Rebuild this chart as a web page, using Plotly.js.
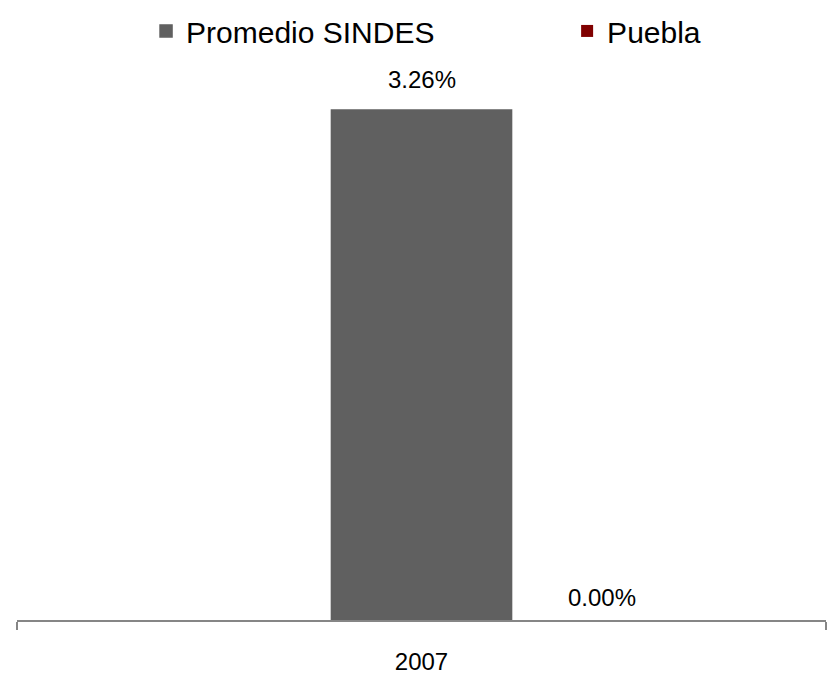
<!DOCTYPE html>
<html>
<head>
<meta charset="utf-8">
<script src="https://cdn.plot.ly/plotly-3.0.1.min.js"></script>
<style>html,body{margin:0;padding:0;background:#fff;}#chart{width:827px;height:684px;}</style>
</head>
<body>
<div id="chart"></div>
<script>
var categories = ['2007'];
var seriesNames = ['', 'Promedio SINDES', 'Puebla'];
var blankValues = [null];
var promedioValues = [3.26];
var pueblaValues = [0.00];
var yMax = 3.4518;

var FONT = 'Liberation Sans, Arial, sans-serif';

var traces = [
  {type: 'bar', name: seriesNames[0], x: categories, y: blankValues, showlegend: false,
   marker: {color: 'rgba(0,0,0,0)'}, hoverinfo: 'skip'},
  {type: 'bar', name: seriesNames[1], x: categories, y: promedioValues, legend: 'legend',
   marker: {color: '#606060', line: {color: '#606060', width: 1.5}}},
  {type: 'bar', name: seriesNames[2], x: categories, y: pueblaValues, legend: 'legend2',
   marker: {color: '#800000', line: {color: '#800000', width: 0}}}
];

var valueSets = [promedioValues, pueblaValues];
var shifts = [[0, 15], [180, 7]];
var annotations = [];
valueSets.forEach(function (vals, s) {
  vals.forEach(function (v, i) {
    annotations.push({
      x: i, y: v, xref: 'x', yref: 'y',
      text: v.toFixed(2) + '%', showarrow: false,
      xanchor: 'center', yanchor: 'bottom',
      xshift: shifts[s][0], yshift: shifts[s][1],
      font: {family: FONT, size: 24, color: '#000'}
    });
  });
});

var legendFont = {family: FONT, size: 30, color: '#000'};

var layout = {
  width: 827, height: 684,
  margin: {l: 17, r: 1, t: 80, b: 64},
  paper_bgcolor: '#fff', plot_bgcolor: '#fff',
  barmode: 'group', bargap: 0.332, bargroupgap: 0,
  font: {family: FONT, color: '#000'},
  xaxis: {
    type: 'category', range: [-0.5, 0.5],
    showline: true, linecolor: '#868686', linewidth: 1.5,
    ticks: 'outside', tickson: 'boundaries', ticklen: 8, tickwidth: 1.5, tickcolor: '#868686',
    ticklabelstandoff: 20,
    tickfont: {family: FONT, size: 24, color: '#000'},
    showgrid: false, zeroline: false
  },
  yaxis: {range: [0, yMax], visible: false, showgrid: false, zeroline: false},
  showlegend: true,
  legend: {
    orientation: 'h', x: 0.1595, xanchor: 'left', y: 1.139, yanchor: 'top',
    font: legendFont, bgcolor: 'rgba(0,0,0,0)'
  },
  legend2: {
    orientation: 'h', x: 0.680, xanchor: 'left', y: 1.139, yanchor: 'top',
    font: legendFont, bgcolor: 'rgba(0,0,0,0)'
  },
  annotations: annotations
};

Plotly.newPlot('chart', traces, layout, {displayModeBar: false, staticPlot: true});
</script>
</body>
</html>
